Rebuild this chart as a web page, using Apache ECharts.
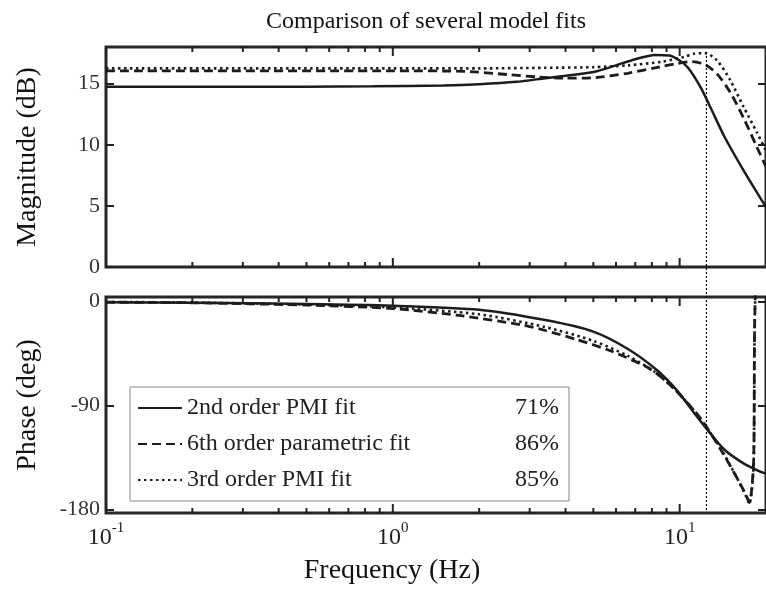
<!DOCTYPE html>
<html>
<head>
<meta charset="utf-8">
<script src="https://cdn.jsdelivr.net/npm/echarts@6/dist/echarts.min.js"></script>
<style>html,body{margin:0;padding:0;background:#fff}#c{width:766px;height:590px}</style>
</head>
<body>
<div id="c"></div>
<script>
// ---------- data ----------
const seriesNames = ['2nd order PMI fit', '6th order parametric fit', '3rd order PMI fit'];
const fitPercent = ['71%', '86%', '85%'];

const magFreqSolid = [0.1, 0.5, 0.85, 1.5, 2.0, 2.7, 3.4, 4.0, 5.1, 6.0, 7.0, 8.2, 9.2, 10.0, 10.7, 11.9, 12.9, 14.3, 16.7, 18.7, 20];
const magSolid     = [14.75, 14.75, 14.78, 14.85, 14.95, 15.15, 15.45, 15.65, 16.0, 16.5, 17.0, 17.35, 17.3, 16.9, 16.3, 14.6, 12.9, 10.7, 7.9, 6.0, 4.9];

const magFreqDashed = [0.1, 1.0, 1.8, 2.5, 3.2, 4.0, 5.1, 6.6, 8.2, 9.8, 11.0, 12.3, 13.5, 15.0, 16.7, 18.6, 20];
const magDashed     = [16.05, 16.05, 16.0, 15.75, 15.55, 15.45, 15.5, 15.85, 16.3, 16.65, 16.8, 16.55, 15.8, 14.3, 12.2, 9.8, 8.2];

const magFreqDotted = [0.1, 1.0, 2.0, 3.4, 5.0, 6.6, 8.7, 10.4, 11.2, 12.3, 13.5, 15.0, 16.7, 18.6, 20];
const magDotted     = [16.25, 16.25, 16.25, 16.3, 16.35, 16.5, 16.8, 17.2, 17.45, 17.5, 16.9, 15.3, 13.1, 11.0, 9.5];

const phFreqSolid = [0.1, 0.2, 0.5, 1.0, 2.0, 3.4, 5.0, 6.6, 8.3, 9.8, 11.2, 12.5, 14.3, 16.7, 19.0, 20];
const phSolid     = [-0.5, -1, -2, -3.5, -7, -16, -26, -41, -59, -77, -96, -111, -128, -140, -147, -149];

const phFreqDashed = [0.1, 0.2, 0.5, 1.0, 1.7, 2.8, 3.4, 4.4, 5.8, 7.6, 8.5, 9.8, 11.9, 13.9, 15.8, 17.0, 17.5, 18.1, 18.4, 20];
const phDashed     = [-0.5, -1, -3, -6, -12, -20, -25, -33, -43, -56, -64, -78, -102, -128, -152, -167, -174, -140, 10, 15];

const phFreqDotted = [0.1, 0.2, 0.5, 1.0, 2.0, 3.4, 5.0, 6.6, 8.2, 9.8, 11.2, 12.5, 13.9, 15.8, 17.0, 17.5, 18.1, 18.4, 20];
const phDotted     = [-0.3, -0.8, -2.5, -5, -11, -22, -34, -47, -61, -78, -94, -110, -127, -152, -168, -175, -142, 10, 15];

const markerFreq = [12.4];

const magTicks = [0, 5, 10, 15];
const phaseTicks = [-180, -90, 0];
const majorTickFreqs = [0.1, 1, 10];
const minorTickFreqs = [0.2, 0.3, 0.4, 0.5, 0.6, 0.7, 0.8, 0.9, 2, 3, 4, 5, 6, 7, 8, 9];

// ---------- chart ----------
const FONT = "'Liberation Serif', 'Times New Roman', serif";
const INK = '#1c1c1c';
const zip = (xs, ys) => xs.map((x, i) => [x, ys[i]]);

const lineStyles = [
  { color: INK, width: 2.5, type: 'solid' },
  { color: INK, width: 2.8, type: [9, 5] },
  { color: INK, width: 2.6, type: [2.5, 3.5] }
];

const G = [
  { left: 106, top: 47, width: 666, height: 220 },
  { left: 106, top: 297, width: 666, height: 216 }
];

function xAxisFor(gridIndex, showLabel) {
  return {
    type: 'log', logBase: 10, min: 0.1, max: 20, gridIndex,
    axisLine: { show: false }, axisTick: { show: false }, splitLine: { show: false },
    axisLabel: showLabel ? {
      show: true, margin: 8, showMaxLabel: false,
      formatter: v => '{b|10}{s|' + Math.round(Math.log10(v)) + '}',
      rich: {
        b: { fontFamily: FONT, fontSize: 24, color: '#222', verticalAlign: 'bottom', padding: [5, 0, 0, 0] },
        s: { fontFamily: FONT, fontSize: 15, color: '#222', verticalAlign: 'top' }
      }
    } : { show: false },
    name: showLabel ? 'Frequency (Hz)' : '',
    nameLocation: 'middle', nameGap: 44,
    nameTextStyle: { fontFamily: FONT, fontSize: 28, color: '#111', padding: [0, 88, 0, 0] }
  };
}

function yAxisFor(gridIndex, min, max, ticks, position, name) {
  const left = position === 'left';
  return {
    type: 'value', gridIndex, min, max, position,
    axisLine: { show: false }, splitLine: { show: false },
    axisTick: { show: true, inside: true, length: 8, lineStyle: { color: '#222', width: 2 }, customValues: ticks },
    axisLabel: left ? { show: true, margin: 6, customValues: ticks, fontFamily: FONT, fontSize: 22, color: '#333' } : { show: false },
    name: left ? name : '', nameLocation: 'middle', nameGap: 64,
    nameTextStyle: { fontFamily: FONT, fontSize: 28, color: '#111' }
  };
}

function tickRender(params, api) {
  const f = api.value(0);
  const len = api.value(1) ? 9 : 5;
  const cs = params.coordSys;
  const x = api.coord([f, api.value(2)])[0];
  const st = { stroke: '#222', lineWidth: 2 };
  return {
    type: 'group', children: [
      { type: 'line', shape: { x1: x, y1: cs.y + cs.height, x2: x, y2: cs.y + cs.height - len }, style: st },
      { type: 'line', shape: { x1: x, y1: cs.y, x2: x, y2: cs.y + len }, style: st }
    ]
  };
}

const tickData = yv => majorTickFreqs.map(f => [f, 1, yv]).concat(minorTickFreqs.map(f => [f, 0, yv]));

function curve(i, xi, yi, data) {
  return {
    type: 'line', name: seriesNames[i], xAxisIndex: xi, yAxisIndex: yi,
    data, symbol: 'none', showSymbol: false, smooth: 0.25, lineStyle: lineStyles[i], itemStyle: { color: INK },
    silent: true, clip: true, z: 3
  };
}

const option = {
  animation: false,
  backgroundColor: '#fff',
  title: {
    text: 'Comparison of several model fits', left: 421, top: 5, textAlign: 'center',
    textStyle: { fontFamily: FONT, fontSize: 24, fontWeight: 'normal', color: '#111' }
  },
  grid: [
    Object.assign({ show: true, borderColor: '#262626', borderWidth: 3, backgroundColor: 'transparent' }, G[0]),
    Object.assign({ show: true, borderColor: '#262626', borderWidth: 3, backgroundColor: 'transparent' }, G[1]),
    { left: 106, top: 50, width: 666, height: 460, show: false }
  ],
  xAxis: [xAxisFor(0, false), xAxisFor(1, true), xAxisFor(2, false)],
  yAxis: [
    yAxisFor(0, 0, 18, magTicks, 'left', 'Magnitude (dB)'),
    yAxisFor(0, 0, 18, magTicks, 'right', ''),
    yAxisFor(1, -183, 4, phaseTicks, 'left', 'Phase (deg)'),
    yAxisFor(1, -183, 4, phaseTicks, 'right', ''),
    { type: 'value', gridIndex: 2, min: 0, max: 1, show: false }
  ],
  legend: {
    data: seriesNames, orient: 'vertical', left: 130, top: 387,
    backgroundColor: '#fff', borderColor: '#888', borderWidth: 1,
    padding: [6, 10, 6, 7], itemWidth: 44, itemHeight: 14, itemGap: 6,
    selectedMode: false,
    itemStyle: { opacity: 0 },
    formatter: name => '{n|' + name + '}{p|' + fitPercent[seriesNames.indexOf(name)] + '}',
    textStyle: {
      fontFamily: FONT, fontSize: 24, color: '#222', lineHeight: 30,
      rich: {
        n: { fontFamily: FONT, fontSize: 24, color: '#222', width: 310 },
        p: { fontFamily: FONT, fontSize: 24, color: '#222', width: 62, align: 'right' }
      }
    }
  },
  series: [
    curve(0, 0, 0, zip(magFreqSolid, magSolid)),
    curve(1, 0, 0, zip(magFreqDashed, magDashed)),
    curve(2, 0, 0, zip(magFreqDotted, magDotted)),
    curve(0, 1, 2, zip(phFreqSolid, phSolid)),
    curve(1, 1, 2, zip(phFreqDashed, phDashed)),
    curve(2, 1, 2, zip(phFreqDotted, phDotted)),
    {
      type: 'custom', xAxisIndex: 0, yAxisIndex: 0, data: tickData(5), renderItem: tickRender, silent: true, z: 5
    },
    {
      type: 'custom', xAxisIndex: 1, yAxisIndex: 2, data: tickData(-90), renderItem: tickRender, silent: true, z: 5
    },
    {
      type: 'line', xAxisIndex: 2, yAxisIndex: 4, symbol: 'none', silent: true, z: 6,
      data: [[markerFreq[0], 0], [markerFreq[0], 1]],
      lineStyle: { color: '#000', width: 1.2, type: [2, 2] }
    }
  ]
};

const chart = echarts.init(document.getElementById('c'), null, { renderer: 'canvas' });
chart.setOption(option);
</script>
</body>
</html>
